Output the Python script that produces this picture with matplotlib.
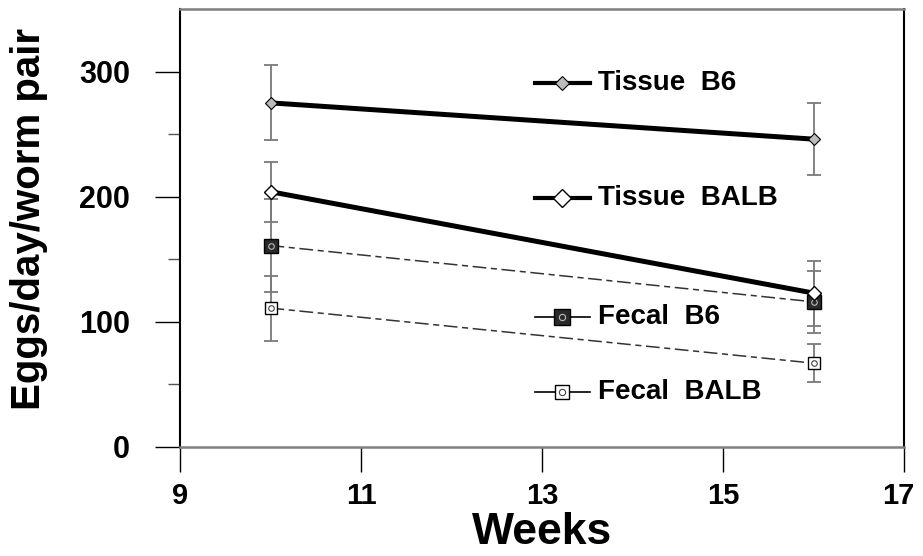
import matplotlib
matplotlib.use('Agg')
import matplotlib.pyplot as plt
import matplotlib.transforms as mtransforms
from matplotlib import font_manager
from matplotlib.lines import Line2D

# data
weeks = [10, 16]
tissue_b6 = [275, 246]
tissue_b6_err = [30, 29]
tissue_balb = [204, 123]
tissue_balb_err = [24, 26]
fecal_b6 = [161, 116]
fecal_b6_err = [37, 25]
fecal_balb = [111, 67]
fecal_balb_err = [26, 15]
labels = ['Tissue  B6', 'Tissue  BALB', 'Fecal  B6', 'Fecal  BALB']
xticks = [9, 11, 13, 15, 17]
yticks = [0, 100, 200, 300]

names = {f.name for f in font_manager.fontManager.ttflist}
narrow = 'Liberation Sans Narrow' if 'Liberation Sans Narrow' in names else 'Liberation Sans'
plt.rcParams['font.family'] = [narrow, 'DejaVu Sans']

fig = plt.figure(figsize=(9.23, 5.56), dpi=100)
ax = fig.add_axes([180 / 923, 1 - 447 / 556, 724 / 923, 438 / 556])

ebar = dict(fmt='none', ecolor='#7a7a7a', elinewidth=1.3, capsize=5, capthick=1.3, zorder=2)
ax.errorbar(weeks, tissue_b6, yerr=tissue_b6_err, **ebar)
ax.errorbar(weeks, tissue_balb, yerr=tissue_balb_err, **ebar)
ax.errorbar(weeks, fecal_b6, yerr=fecal_b6_err, **ebar)
ax.errorbar(weeks, fecal_balb, yerr=fecal_balb_err, **ebar)

# fecal lines: thin dashed
ax.plot(weeks, fecal_b6, color='#333333', lw=1.1, dashes=(9, 3, 4, 3), zorder=3)
ax.plot(weeks, fecal_balb, color='#333333', lw=1.1, dashes=(9, 3, 4, 3), zorder=3)
# tissue lines: heavy solid
ax.plot(weeks, tissue_b6, color='black', lw=3.6, solid_capstyle='butt', zorder=4)
ax.plot(weeks, tissue_balb, color='black', lw=3.6, solid_capstyle='butt', zorder=4)

ms = dict(ls='none', zorder=5)
ax.plot(weeks, fecal_b6, marker='s', ms=10, mfc='#2a2a2a', mec='black', mew=1.0, **ms)
ax.plot(weeks, fecal_b6, marker='o', ms=4, mfc='none', mec='#bbbbbb', mew=0.8, **ms)
ax.plot(weeks, fecal_balb, marker='s', ms=9, mfc='white', mec='black', mew=1.0, **ms)
ax.plot(weeks, fecal_balb, marker='o', ms=4, mfc='none', mec='#444444', mew=0.8, **ms)
ax.plot(weeks, tissue_balb, marker='D', ms=7, mfc='white', mec='black', mew=1.0, **ms)
ax.plot(weeks, tissue_b6, marker='D', ms=6, mfc='#bbbbbb', mec='black', mew=0.8, **ms)

# legend drawn by hand, stacked down the middle of the plot
leg_y = [0.831, 0.568, 0.297, 0.126]
leg_style = [
    dict(lw=3.0, marker='D', ms=7, mfc='#bbbbbb', mec='black', mew=0.8),
    dict(lw=3.0, marker='D', ms=9, mfc='white', mec='black', mew=1.0),
    dict(lw=1.2, marker='s', ms=11, mfc='#2a2a2a', mec='black', mew=1.0),
    dict(lw=1.2, marker='s', ms=10, mfc='white', mec='black', mew=1.0),
]
for y, lab, st in zip(leg_y, labels, leg_style):
    ax.add_line(Line2D([0.490, 0.566], [y, y], transform=ax.transAxes,
                       color='black', lw=st['lw'], zorder=6))
    ax.add_line(Line2D([0.528], [y], transform=ax.transAxes, ls='none', zorder=7,
                       marker=st['marker'], ms=st['ms'], mfc=st['mfc'],
                       mec=st['mec'], mew=st['mew']))
    ax.text(0.578, y, lab, transform=ax.transAxes, fontsize=20, fontweight='bold',
            va='center', ha='left')
for y, c in ((leg_y[2], '#bbbbbb'), (leg_y[3], '#444444')):
    ax.add_line(Line2D([0.528], [y], transform=ax.transAxes, ls='none', zorder=8,
                       marker='o', ms=4.5, mfc='none', mec=c, mew=0.8))

ax.set_xlim(9, 17)
ax.set_ylim(0, 350)
ax.set_xticks(xticks)
ax.set_yticks(yticks)
ax.set_yticks([50, 150, 250], minor=True)
ax.tick_params(axis='both', which='major', direction='out', length=18, width=1.0,
               labelsize=22)
ax.tick_params(axis='y', which='major', pad=18)
ax.tick_params(axis='x', which='major', pad=7, labelsize=21)
ax.tick_params(axis='y', which='minor', direction='out', length=9, width=1.0, color='#555555')
for lab in ax.get_xticklabels() + ax.get_yticklabels():
    lab.set_fontweight('bold')

# nudge "17" a little left so it stays inside the picture
last = ax.get_xticklabels()[-1]
last.set_transform(last.get_transform() +
                   mtransforms.ScaledTranslation(-6 / 100, 0, fig.dpi_scale_trans))

for side in ('top', 'bottom'):
    ax.spines[side].set_color('#808080')
    ax.spines[side].set_linewidth(1.8)
for side in ('left', 'right'):
    ax.spines[side].set_color('black')
    ax.spines[side].set_linewidth(1.5)

ax.set_xlabel('Weeks', fontsize=32, fontweight='bold')
ax.xaxis.set_label_coords(0.5, -0.148)
ax.set_ylabel('Eggs/day/worm pair', fontsize=29, fontweight='bold')
ax.yaxis.set_label_coords(-0.182, 0.52)

fig.savefig('out.png', dpi=100)
